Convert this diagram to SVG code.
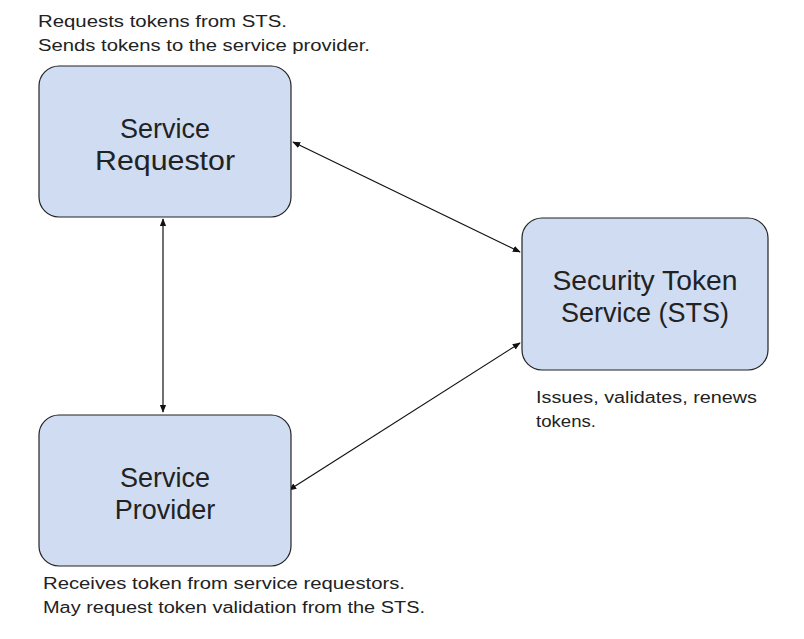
<svg xmlns="http://www.w3.org/2000/svg" width="804" height="639" viewBox="0 0 804 639">
<style>
.box{fill:#cfdcf2;stroke:#222;stroke-width:1.2}
.lbl{font-family:"Liberation Sans",Arial,sans-serif;font-size:27px;fill:#222;text-anchor:middle}
.note{font-family:"Liberation Sans",Arial,sans-serif;font-size:16px;fill:#222}
.c{stroke:#111;stroke-width:1.2;fill:none;marker-start:url(#a);marker-end:url(#a)}
</style>
<defs><marker id="a" viewBox="0 0 10 10" refX="9" refY="5" markerWidth="8" markerHeight="8" orient="auto-start-reverse" markerUnits="userSpaceOnUse"><path d="M0,1 L10,5 L0,9 z" fill="#111"/></marker></defs>
<rect width="804" height="639" fill="#fff"/>
<g id="connectors">
<line class="c" x1="293" y1="142" x2="520" y2="252"/>
<line class="c" x1="163" y1="219" x2="163" y2="412"/>
<line class="c" x1="289" y1="490" x2="520" y2="343"/>
</g>
<g id="requestor"><rect class="box" x="39" y="66" width="252" height="151" rx="20"/>
<text class="lbl" x="165" y="138">Service</text><text class="lbl" x="165" y="170" textLength="140" lengthAdjust="spacingAndGlyphs">Requestor</text></g>
<g id="sts"><rect class="box" x="522" y="218" width="246" height="152" rx="20"/>
<text class="lbl" x="645" y="290" textLength="185" lengthAdjust="spacingAndGlyphs">Security Token</text><text class="lbl" x="645" y="322">Service (STS)</text></g>
<g id="provider"><rect class="box" x="39" y="415" width="252" height="151" rx="20"/>
<text class="lbl" x="165" y="487">Service</text><text class="lbl" x="165" y="519">Provider</text></g>
<g id="notes">
<text class="note" x="38" y="27" textLength="249" lengthAdjust="spacingAndGlyphs">Requests tokens from STS.</text>
<text class="note" x="38" y="51" textLength="332" lengthAdjust="spacingAndGlyphs">Sends tokens to the service provider.</text>
<text class="note" x="536" y="403" textLength="221" lengthAdjust="spacingAndGlyphs">Issues, validates, renews</text>
<text class="note" x="536" y="427" textLength="60" lengthAdjust="spacingAndGlyphs">tokens.</text>
<text class="note" x="43" y="589" textLength="362" lengthAdjust="spacingAndGlyphs">Receives token from service requestors.</text>
<text class="note" x="43" y="613" textLength="382" lengthAdjust="spacingAndGlyphs">May request token validation from the STS.</text>
</g>
</svg>
